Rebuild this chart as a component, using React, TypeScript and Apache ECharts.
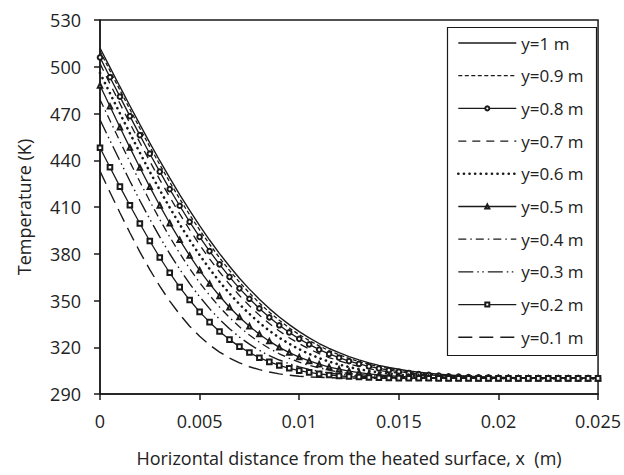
import React, { useEffect, useRef } from "react";
import * as echarts from "echarts";

// Horizontal distance from the heated surface, x (m)
const XS = [
  0, 0.0005, 0.001, 0.0015, 0.002, 0.0025, 0.003, 0.0035, 0.004, 0.0045,
  0.005, 0.0055, 0.006, 0.0065, 0.007, 0.0075, 0.008, 0.0085, 0.009, 0.0095,
  0.01, 0.0105, 0.011, 0.0115, 0.012, 0.0125, 0.013, 0.0135, 0.014, 0.0145,
  0.015, 0.0155, 0.016, 0.0165, 0.017, 0.0175, 0.018, 0.0185, 0.019, 0.0195,
  0.02, 0.0205, 0.021, 0.0215, 0.022, 0.0225, 0.023, 0.0235, 0.024, 0.0245,
  0.025,
];

const NAMES = ["y=1 m", "y=0.9 m", "y=0.8 m", "y=0.7 m", "y=0.6 m", "y=0.5 m", "y=0.4 m", "y=0.3 m", "y=0.2 m", "y=0.1 m"];

// Temperature (K)
const T_Y10 = [
  512, 499.6, 487.2, 475.0, 463.0, 451.2, 439.7, 428.7, 418.0, 407.8,
  398.0, 388.8, 380.1, 372.0, 364.3, 357.3, 350.8, 344.8, 339.4, 334.5,
  330.0, 326.0, 322.4, 319.2, 316.5, 314.0, 311.9, 310.0, 308.4, 307.0,
  305.9, 304.8, 304.0, 303.3, 302.7, 302.2, 301.7, 301.4, 301.1, 300.9,
  300.7, 300.6, 300.5, 300.4, 300.3, 300.2, 300.2, 300.1, 300.1, 300.1,
  300.0,
];
const T_Y09 = [
  510, 497.4, 485.0, 472.7, 460.5, 448.7, 437.2, 426.0, 415.3, 405.0,
  395.3, 386.1, 377.4, 369.3, 361.8, 354.8, 348.4, 342.5, 337.3, 332.4,
  328.1, 324.3, 320.9, 317.8, 315.2, 312.8, 310.8, 309.1, 307.5, 306.3,
  305.2, 304.3, 303.5, 302.8, 302.3, 301.8, 301.5, 301.2, 300.9, 300.7,
  300.6, 300.5, 300.4, 300.3, 300.2, 300.2, 300.1, 300.1, 300.1, 300.0,
  300.0,
];
const T_Y08 = [
  506, 493.3, 480.8, 468.3, 456.1, 444.2, 432.7, 421.5, 410.8, 400.5,
  390.8, 381.7, 373.2, 365.2, 357.8, 351.1, 344.9, 339.2, 334.1, 329.5,
  325.4, 321.8, 318.5, 315.7, 313.3, 311.1, 309.3, 307.7, 306.4, 305.3,
  304.3, 303.5, 302.8, 302.3, 301.8, 301.4, 301.1, 300.9, 300.7, 300.6,
  300.4, 300.3, 300.2, 300.2, 300.1, 300.1, 300.1, 300.1, 300.0, 300.0,
  300.0,
];
const T_Y07 = [
  502, 489.1, 476.4, 463.8, 451.4, 439.3, 427.6, 416.4, 405.6, 395.4,
  385.7, 376.7, 368.3, 360.4, 353.2, 346.6, 340.6, 335.2, 330.4, 326.1,
  322.3, 318.9, 315.9, 313.4, 311.2, 309.3, 307.7, 306.3, 305.1, 304.2,
  303.4, 302.7, 302.1, 301.7, 301.3, 301.1, 300.8, 300.6, 300.5, 300.4,
  300.3, 300.2, 300.2, 300.1, 300.1, 300.1, 300.1, 300.0, 300.0, 300.0,
  300.0,
];
const T_Y06 = [
  496, 483.0, 470.0, 457.3, 444.8, 432.6, 420.9, 409.6, 398.9, 388.8,
  379.2, 370.3, 362.1, 354.5, 347.6, 341.4, 335.7, 330.6, 326.1, 322.2,
  318.7, 315.7, 313.0, 310.8, 308.9, 307.3, 305.9, 304.8, 303.8, 303.1,
  302.4, 301.9, 301.5, 301.2, 300.9, 300.7, 300.5, 300.4, 300.3, 300.2,
  300.2, 300.1, 300.1, 300.1, 300.1, 300.0, 300.0, 300.0, 300.0, 300.0,
  300.0,
];
const T_Y05 = [
  488, 474.6, 461.2, 448.1, 435.3, 422.9, 411.0, 399.6, 388.9, 378.8,
  369.4, 360.8, 352.9, 345.7, 339.3, 333.5, 328.4, 323.9, 319.9, 316.6,
  313.7, 311.2, 309.1, 307.3, 305.9, 304.7, 303.7, 302.9, 302.3, 301.7,
  301.3, 301.0, 300.8, 300.6, 300.5, 300.3, 300.2, 300.2, 300.1, 300.1,
  300.1, 300.1, 300.0, 300.0, 300.0, 300.0, 300.0, 300.0, 300.0, 300.0,
  300.0,
];
const T_Y04 = [
  479, 465.5, 452.1, 438.9, 426.2, 413.8, 402.0, 390.8, 380.3, 370.5,
  361.5, 353.3, 345.8, 339.1, 333.1, 327.8, 323.2, 319.2, 315.8, 312.9,
  310.4, 308.4, 306.7, 305.3, 304.1, 303.2, 302.5, 301.9, 301.4, 301.1,
  300.8, 300.6, 300.4, 300.3, 300.2, 300.2, 300.1, 300.1, 300.1, 300.0,
  300.0, 300.0, 300.0, 300.0, 300.0, 300.0, 300.0, 300.0, 300.0, 300.0,
  300.0,
];
const T_Y03 = [
  466, 452.7, 439.6, 426.7, 414.2, 402.2, 390.8, 380.0, 370.1, 360.8,
  352.4, 344.8, 337.9, 331.9, 326.5, 322.0, 318.0, 314.6, 311.8, 309.4,
  307.4, 305.8, 304.5, 303.5, 302.7, 302.0, 301.5, 301.1, 300.8, 300.6,
  300.4, 300.3, 300.2, 300.2, 300.1, 300.1, 300.1, 300.0, 300.0, 300.0,
  300.0, 300.0, 300.0, 300.0, 300.0, 300.0, 300.0, 300.0, 300.0, 300.0,
  300.0,
];
const T_Y02 = [
  448, 435.5, 423.1, 411.1, 399.4, 388.2, 377.6, 367.8, 358.6, 350.3,
  342.7, 336.1, 330.1, 324.9, 320.4, 316.6, 313.3, 310.6, 308.3, 306.5,
  305.0, 303.9, 302.9, 302.2, 301.6, 301.2, 300.9, 300.6, 300.4, 300.3,
  300.2, 300.1, 300.1, 300.1, 300.0, 300.0, 300.0, 300.0, 300.0, 300.0,
  300.0, 300.0, 300.0, 300.0, 300.0, 300.0, 300.0, 300.0, 300.0, 300.0,
  300.0,
];
const T_Y01 = [
  433, 419.5, 406.3, 393.5, 381.2, 369.8, 359.2, 349.6, 341.1, 333.5,
  327.0, 321.5, 316.9, 313.1, 310.0, 307.5, 305.6, 304.1, 302.9, 302.1,
  301.4, 301.0, 300.7, 300.5, 300.3, 300.2, 300.1, 300.1, 300.0, 300.0,
  300.0, 300.0, 300.0, 300.0, 300.0, 300.0, 300.0, 300.0, 300.0, 300.0,
  300.0, 300.0, 300.0, 300.0, 300.0, 300.0, 300.0, 300.0, 300.0, 300.0,
  300.0,
];

const VALUES = [T_Y10, T_Y09, T_Y08, T_Y07, T_Y06, T_Y05, T_Y04, T_Y03, T_Y02, T_Y01];

const INK = "#1a1a1a";
const TXT = "#222";
const FONT = "Open Sans";
const FS = 18;

type Sty = { dash: any; width: number; symbol: string; size: number; cap?: string };
const STYLES: Sty[] = [
  { dash: "solid", width: 1.4, symbol: "none", size: 0 },
  { dash: [4, 2.5], width: 1.3, symbol: "none", size: 0 },
  { dash: "solid", width: 1.3, symbol: "emptyCircle", size: 4.6 },
  { dash: [8, 6], width: 1.3, symbol: "none", size: 0 },
  { dash: [0.1, 5.5], width: 2.6, symbol: "none", size: 0, cap: "round" },
  { dash: "solid", width: 1.3, symbol: "emptyTriangle", size: 4.4 },
  { dash: [8, 4, 1.5, 4], width: 1.3, symbol: "none", size: 0 },
  { dash: [15, 4, 1.5, 3.5, 1.5, 4], width: 1.4, symbol: "none", size: 0 },
  { dash: "solid", width: 1.3, symbol: "emptyRect", size: 4.6 },
  { dash: [14, 7], width: 1.4, symbol: "none", size: 0 },
];

export default function App() {
  const ref = useRef<HTMLDivElement>(null);
  useEffect(() => {
    const chart = echarts.init(ref.current!, null, { renderer: "svg" });
    const series = NAMES.map((name, i) => {
      const s = STYLES[i];
      const hasSym = s.symbol !== "none";
      return {
        name,
        type: "line",
        data: XS.map((x, j) => [x, VALUES[i][j]]),
        symbol: hasSym ? s.symbol : "none",
        symbolSize: s.size,
        showAllSymbol: true,
        lineStyle: { color: INK, width: s.width, type: s.dash, cap: s.cap || "butt" },
        itemStyle: { color: INK, borderColor: INK, borderWidth: 1.1, opacity: hasSym ? 1 : 0 },
        emphasis: { disabled: true },
        z: 2,
      };
    });
    const option: any = {
      animation: false,
      textStyle: { fontFamily: FONT },
      grid: {
        left: 100,
        right: 25,
        top: 20,
        bottom: 81,
        show: true,
        borderColor: INK,
        borderWidth: 1.5,
      },
      xAxis: {
        type: "value",
        min: 0,
        max: 0.025,
        interval: 0.005,
        name: "Horizontal distance from the heated surface, x  (m)",
        nameLocation: "middle",
        nameGap: 55,
        nameTextStyle: { fontSize: FS, color: TXT, fontFamily: FONT },
        axisLine: { lineStyle: { color: INK, width: 1.5 } },
        axisTick: { inside: false, length: 6, lineStyle: { color: INK, width: 1.5 } },
        axisLabel: {
          fontSize: FS,
          color: TXT,
          fontFamily: FONT,
          margin: 18,
          formatter: (v: number) => String(parseFloat(v.toFixed(4))),
        },
        splitLine: { show: false },
      },
      yAxis: {
        type: "value",
        min: 290,
        max: 530,
        interval: 30,
        name: "Temperature (K)",
        nameLocation: "middle",
        nameGap: 67,
        nameTextStyle: { fontSize: FS, color: TXT, fontFamily: FONT },
        axisLine: { show: true, lineStyle: { color: INK, width: 1.5 } },
        axisTick: { show: true, inside: false, length: 6, lineStyle: { color: INK, width: 1.5 } },
        axisLabel: { fontSize: FS, color: TXT, fontFamily: FONT, margin: 19 },
        splitLine: { show: false },
      },
      legend: {
        orient: "vertical",
        left: 457,
        top: 33,
        padding: 0,
        itemWidth: 58,
        itemHeight: 5,
        itemGap: 12.7,
        selectedMode: false,
        data: NAMES,
        textStyle: { fontSize: 17, color: TXT, fontFamily: FONT, lineHeight: 20 },
        lineStyle: { width: "inherit" },
      },
      graphic: [
        {
          type: "rect",
          left: 445,
          top: 25,
          shape: { width: 149, height: 328 },
          style: { fill: "none", stroke: INK, lineWidth: 1.2 },
          z: 10,
        },
      ],
      series,
    };
    chart.setOption(option);
    return () => chart.dispose();
  }, []);
  return (
    <div
      ref={ref}
      style={{ position: "fixed", left: 0, top: 0, width: 624, height: 475, background: "#fff" }}
    />
  );
}
